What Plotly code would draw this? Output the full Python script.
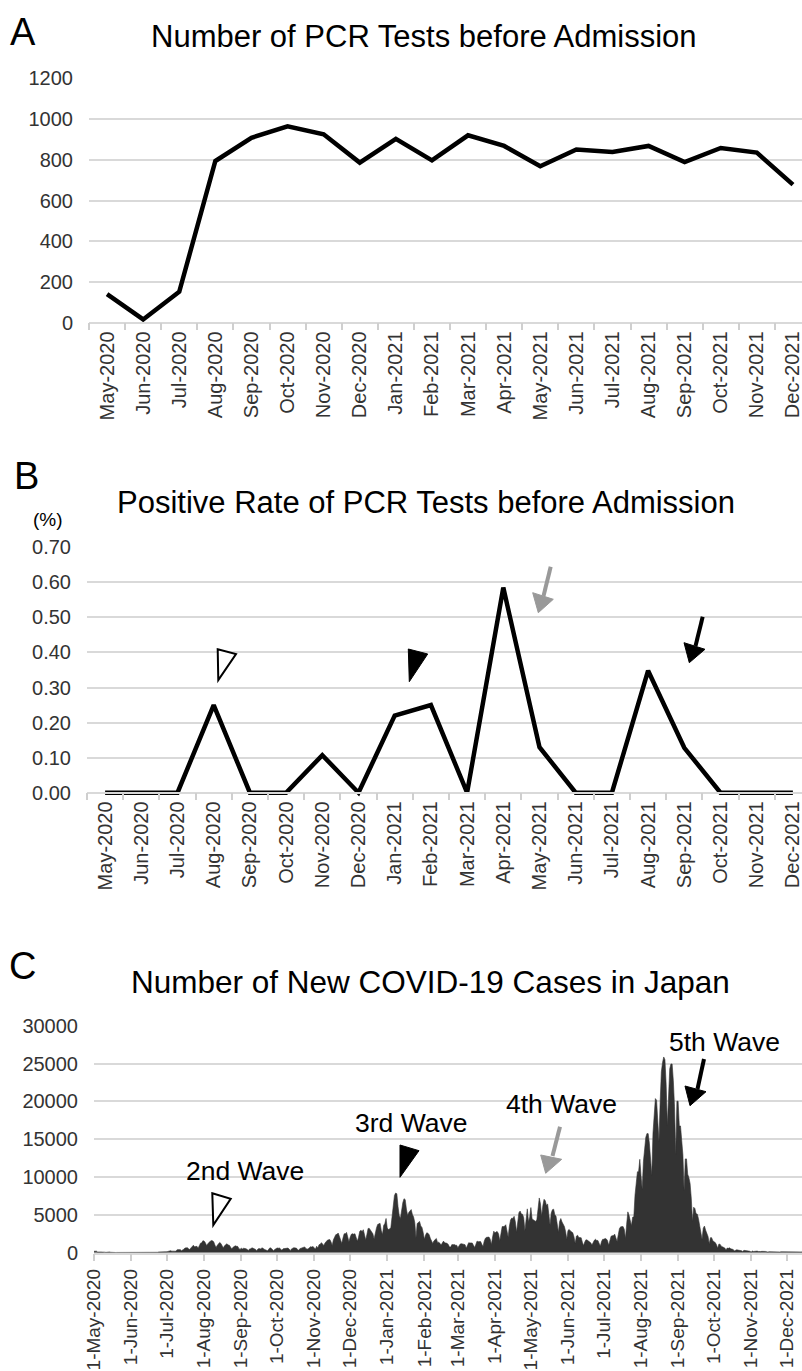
import plotly.graph_objects as go
import pandas as pd

W, H = 802, 1371

# ---------------- data ----------------
months = ["May-2020", "Jun-2020", "Jul-2020", "Aug-2020", "Sep-2020", "Oct-2020", "Nov-2020",
          "Dec-2020", "Jan-2021", "Feb-2021", "Mar-2021", "Apr-2021", "May-2021", "Jun-2021",
          "Jul-2021", "Aug-2021", "Sep-2021", "Oct-2021", "Nov-2021", "Dec-2021"]
pcr_tests = [140, 16, 152, 794, 908, 964, 925, 786, 903, 797, 920, 868, 768, 850, 838, 868,
             789, 858, 835, 678]
positive_rate = [0.0, 0.0, 0.0, 0.25, 0.0, 0.0, 0.107, 0.0, 0.22, 0.25, 0.0, 0.585, 0.13, 0.0,
                 0.0, 0.348, 0.128, 0.0, 0.0, 0.0]

cases_2020_05 = [193, 201, 203, 87, 123, 95, 101, 84, 113, 71, 43, 79, 55, 99, 56, 30, 24, 31, 26,
                 33, 32, 28, 14, 26, 21, 24, 38, 30, 41, 41, 38]
cases_2020_06 = [27, 51, 38, 39, 49, 41, 35, 20, 38, 29, 41, 41, 41, 72, 43, 44, 69, 39, 71, 66,
                 46, 48, 55, 96, 86, 105, 100, 85, 86, 127]
cases_2020_07 = [125, 195, 250, 274, 207, 161, 207, 191, 355, 430, 385, 407, 259, 333, 454, 622,
                 593, 660, 510, 420, 633, 795, 981, 775, 839, 840, 598, 981, 1264, 1300, 1580]
cases_2020_08 = [1536, 1331, 960, 1237, 1354, 1480, 1605, 1566, 1443, 1009, 700, 971, 1177, 1358,
                 1227, 1010, 636, 908, 1070, 1178, 1033, 1000, 764, 496, 693, 846, 910, 847, 836,
                 566, 437]
cases_2020_09 = [592, 495, 584, 588, 522, 425, 283, 505, 509, 650, 601, 540, 435, 268, 497, 547,
                 495, 597, 618, 468, 385, 285, 253, 462, 647, 593, 487, 269, 418, 590]
cases_2020_10 = [626, 593, 612, 472, 323, 520, 542, 643, 642, 609, 482, 272, 500, 572, 667, 631,
                 618, 429, 308, 532, 595, 657, 681, 763, 561, 458, 530, 728, 800, 738, 826]
cases_2020_11 = [612, 480, 853, 632, 1050, 1116, 1330, 1163, 950, 1277, 1546, 1652, 1706, 1737,
                 1433, 950, 1698, 2201, 2388, 2426, 2596, 2168, 1519, 1227, 1930, 2502, 2505,
                 2684, 2068, 1436]
cases_2020_12 = [2030, 2434, 2510, 2439, 2508, 2054, 1518, 2034, 2811, 2973, 2791, 3041, 2384,
                 1681, 2414, 3209, 3214, 2995, 2880, 2493, 1811, 2660, 3276, 3739, 3820, 3876,
                 2944, 2394, 3605, 3852, 4520]
cases_2021_01 = [3258, 3056, 3129, 3325, 4915, 6004, 7570, 7882, 7790, 6094, 4875, 4536, 5875,
                 6605, 7133, 7014, 5759, 4925, 5320, 5454, 5700, 5045, 4717, 3990, 1974, 3853,
                 3960, 4133, 3533, 3342, 2673]
cases_2021_02 = [1782, 2324, 2631, 2576, 2366, 1894, 1530, 1223, 1568, 1710, 1880, 1358, 1380,
                 1244, 1017, 1278, 1530, 1308, 1295, 1239, 1076, 740, 739, 1071, 1054, 1083, 993,
                 986]
cases_2021_03 = [666, 1003, 1155, 1192, 1145, 1065, 1063, 600, 1127, 1317, 1290, 1325, 1286, 980,
                 688, 1095, 1528, 1463, 1468, 1473, 1119, 814, 1521, 1917, 2029, 2082, 2065, 1785,
                 1082, 2086, 2845]
cases_2021_04 = [2599, 2764, 2778, 2471, 1571, 2656, 3450, 3447, 3489, 3697, 2778, 2091, 3452,
                 4312, 4575, 4532, 4802, 4093, 2724, 4337, 5289, 5504, 5112, 5081, 4615, 2917,
                 4316, 5790, 4086, 4680]
cases_2021_05 = [5967, 4468, 4354, 4170, 4120, 4380, 6057, 7234, 6463, 4854, 6245, 7056, 6868,
                 6271, 6422, 5241, 3667, 5238, 5685, 5751, 5021, 4813, 3978, 2714, 4118, 4515,
                 4061, 3768, 3454, 2790, 1769]
cases_2021_06 = [2946, 3069, 2880, 2745, 2632, 2099, 1247, 2183, 2305, 2002, 1940, 1975, 1380,
                 937, 1406, 1701, 1671, 1581, 1480, 1300, 1003, 1418, 1641, 1771, 1624, 1617,
                 1275, 854, 1465, 1772]
cases_2021_07 = [1772, 1881, 1820, 1598, 991, 1668, 2184, 2242, 2275, 2452, 1893, 1480, 2381,
                 3197, 3419, 3417, 3456, 3096, 1886, 3759, 5396, 4941, 4224, 3574, 4692, 4744,
                 7629, 9576, 10687, 10743, 12340]
cases_2021_08 = [10167, 8388, 12013, 14207, 15263, 15753, 15732, 14466, 12080, 10232, 15806,
                 18889, 20365, 20151, 17803, 14728, 19955, 23917, 25152, 25866, 25492, 22265,
                 16828, 21550, 24314, 24948, 24936, 22732, 19284, 12975, 20027]
cases_2021_09 = [20030, 16757, 16750, 15000, 12930, 8225, 12396, 12398, 10377, 9916, 9148, 7211,
                 4169, 6007, 5842, 5148, 5100, 4500, 3563, 2215, 1767, 3235, 3522, 2977, 2622,
                 2140, 1147, 1988, 1986, 1575]
cases_2021_10 = [1446, 1343, 1068, 595, 1127, 1128, 865, 790, 786, 613, 370, 612, 575, 640, 509,
                 492, 429, 233, 375, 386, 344, 324, 284, 263, 154, 309, 294, 277, 261, 242, 186]
cases_2021_11 = [86, 222, 161, 203, 209, 213, 163, 108, 149, 178, 200, 176, 166, 130, 79, 137,
                 125, 150, 144, 122, 110, 53, 77, 115, 91, 122, 122, 113, 85, 80]
cases_2021_12 = [124, 120, 124, 113, 131, 72, 119, 142, 152, 150, 124, 137, 98, 183, 178, 178,
                 172, 187, 164, 113, 222, 262, 287, 300, 301, 279, 263, 382, 501, 502, 550]

daily_cases = (cases_2020_05 + cases_2020_06 + cases_2020_07 + cases_2020_08 + cases_2020_09 +
               cases_2020_10 + cases_2020_11 + cases_2020_12 + cases_2021_01 + cases_2021_02 +
               cases_2021_03 + cases_2021_04 + cases_2021_05 + cases_2021_06 + cases_2021_07 +
               cases_2021_08 + cases_2021_09 + cases_2021_10 + cases_2021_11 + cases_2021_12)
case_dates = pd.date_range("2020-05-01", periods=len(daily_cases), freq="D")

# ---------------- layout helpers (pixel -> paper) ----------------
def px(x):
    return x / W


def py(y):
    return 1 - y / H


FONT = "Arial, Liberation Sans, sans-serif"
GRID = "#d9d9d9"
TICKC = "#333333"
PAD = 4  # px of room below the zero line so thick lines are not clipped

fig = go.Figure()

fig.add_trace(go.Scatter(x=months, y=pcr_tests, mode="lines",
                         line=dict(color="black", width=4.5), xaxis="x", yaxis="y",
                         showlegend=False))
fig.add_trace(go.Scatter(x=months, y=positive_rate, mode="lines",
                         line=dict(color="black", width=4.5), xaxis="x2", yaxis="y2",
                         showlegend=False))
fig.add_trace(go.Scatter(x=case_dates, y=daily_cases, mode="lines", fill="tozeroy",
                         fillcolor="#333333", line=dict(color="#333333", width=0.6),
                         xaxis="x3", yaxis="y3", showlegend=False))

# Panel A geometry
a_left, a_top, a_zero = 89.0, 78.3, 322.7
a_ppu = (a_zero - a_top) / 1200
# Panel B geometry
b_left, b_top, b_zero = 87.0, 547.3, 792.7
b_ppu = (b_zero - b_top) / 0.7
# Panel C geometry
c_left, c_top, c_zero = 94.0, 1025.7, 1252.7

cat_axis = dict(type="category", tickson="boundaries", ticks="outside", ticklen=7,
                tickcolor="#cfcfcf", tickwidth=1.5, tickangle=-90, showgrid=False,
                showline=True, linecolor=GRID, linewidth=1.5, zeroline=False,
                automargin=False,
                tickfont=dict(family=FONT, size=20, color=TICKC), anchor="free")
val_axis = dict(showgrid=True, gridcolor=GRID, gridwidth=1.5, zeroline=False, showline=False,
                ticks="", ticklabelstandoff=15, automargin=False,
                tickfont=dict(family=FONT, size=20, color=TICKC))

fig.update_layout(
    width=W, height=H, margin=dict(l=0, r=0, t=0, b=0, pad=0), autosize=False,
    paper_bgcolor="white", plot_bgcolor="white",
    font=dict(family=FONT, color="black"),
    xaxis=dict(cat_axis, domain=[px(a_left), 1],
               range=[-0.5, -0.5 + (W - a_left) / 36.1], position=py(a_zero)),
    yaxis=dict(val_axis, domain=[py(a_zero + PAD), py(a_top)],
               range=[-PAD / a_ppu, 1200], dtick=200, anchor="x"),
    xaxis2=dict(cat_axis, domain=[px(b_left), 1],
                range=[-0.5, -0.5 + (W - b_left) / 36.2], position=py(b_zero)),
    yaxis2=dict(val_axis, domain=[py(b_zero + PAD), py(b_top)],
                range=[-PAD / b_ppu, 0.7], dtick=0.1, tickformat=".2f", anchor="x2"),
    xaxis3=dict(type="date", domain=[px(c_left), 1],
                range=["2020-05-01", "2021-12-13 12:00"], tick0="2020-05-01", dtick="M1",
                tickformat="%-d-%b-%Y", ticks="outside", ticklen=7, tickcolor="#cfcfcf",
                tickwidth=1.5, tickangle=-90, showgrid=False, showline=True, linecolor=GRID,
                linewidth=1.5, zeroline=False, automargin=False,
                tickfont=dict(family=FONT, size=19, color=TICKC), anchor="y3"),
    yaxis3=dict(val_axis, domain=[py(c_zero), py(c_top)], range=[0, 30000], dtick=5000,
                tickformat="d", anchor="x3"),
)

# ---------------- text ----------------
texts = [
    ("A", 23, 32, 38), ("B", 26, 476, 38), ("C", 22, 966, 38),
    ("Number of PCR Tests before Admission", 424, 36, 31),
    ("Positive Rate of PCR Tests before Admission", 426, 502, 31),
    ("Number of New COVID-19 Cases in Japan", 430, 982, 31.5),
    ("(%)", 48, 519, 19),
    ("2nd Wave", 245, 1171, 26.5), ("3rd Wave", 411, 1123, 26.5),
    ("4th Wave", 561, 1104, 26.5), ("5th Wave", 724, 1042, 26.5),
]
for t, x, y, s in texts:
    fig.add_annotation(text=t, x=px(x), y=py(y), xref="paper", yref="paper",
                       xanchor="center", yanchor="middle", showarrow=False,
                       font=dict(family=FONT, size=s, color="black"))


# ---------------- arrow / arrowhead decorations ----------------
def tri_path(pts):
    return "M " + " L ".join(f"{px(x):.5f},{py(y):.5f}" for x, y in pts) + " Z"


def add_tri(pts, fill, line_color, lw):
    fig.add_shape(type="path", path=tri_path(pts), xref="paper", yref="paper",
                  fillcolor=fill, line=dict(color=line_color, width=lw))


def add_arrow(shaft, head, color):
    (x0, y0), (x1, y1) = shaft
    fig.add_shape(type="line", x0=px(x0), y0=py(y0), x1=px(x1), y1=py(y1),
                  xref="paper", yref="paper", line=dict(color=color, width=4))
    add_tri(head, color, color, 1)


# Panel B
add_tri([(217.7, 649.3), (236, 654), (218.3, 680)], "white", "black", 2)
add_tri([(408.3, 649), (427.7, 654), (409.3, 681.7)], "black", "black", 1)
add_arrow([(550.7, 566.7), (543.5, 596)], [(532.7, 592.7), (553.3, 599.3), (538.3, 612.7)],
          "#999999")
add_arrow([(702.7, 616.7), (695.5, 646)], [(684, 642.7), (705, 649.3), (689.3, 662.7)], "black")
# Panel C
add_tri([(212.3, 1193.3), (230.7, 1198.7), (213.3, 1225)], "white", "black", 2)
add_tri([(400, 1145), (419, 1150.7), (400, 1177.3)], "black", "black", 1)
add_arrow([(560, 1126.7), (552.5, 1156)], [(540.7, 1155), (561.7, 1159.3), (545.7, 1173.3)],
          "#999999")
add_arrow([(704, 1059), (697.5, 1089)], [(685, 1086), (706, 1091.7), (690, 1105.7)], "black")

fig.write_html(
    "out.html",
    config={"responsive": False, "displayModeBar": False},
    post_script="document.body.style.margin='0px';document.body.style.overflow='hidden';",
)
